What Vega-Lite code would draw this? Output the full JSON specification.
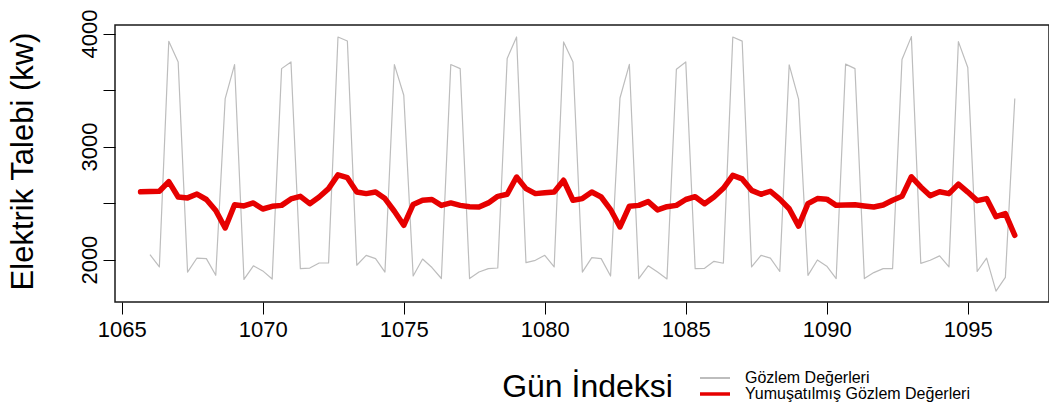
{
  "$schema": "https://vega.github.io/schema/vega-lite/v6.json",
  "width": 934,
  "height": 277,
  "autosize": {"type": "none"},
  "padding": {"left": 115, "top": 25, "right": 0, "bottom": 108},
  "background": "white",
  "config": {
    "font": "Liberation Sans",
    "view": {"stroke": "#1a1a1a", "strokeWidth": 1.5},
    "axis": {"grid": false, "domain": false, "tickColor": "#000", "tickWidth": 1, "labelColor": "#000", "titleColor": "#000", "labelFont": "Liberation Sans", "titleFont": "Liberation Sans", "titleFontWeight": "normal"}
  },
  "datasets": {
    "gozlem": [
      {"gun": 1066, "deger": 2044}, {"gun": 1066.333, "deger": 1935}, {"gun": 1066.667, "deger": 3932},
      {"gun": 1067, "deger": 3749}, {"gun": 1067.333, "deger": 1890}, {"gun": 1067.667, "deger": 2014},
      {"gun": 1068, "deger": 2009}, {"gun": 1068.333, "deger": 1861}, {"gun": 1068.667, "deger": 3425},
      {"gun": 1069, "deger": 3726}, {"gun": 1069.333, "deger": 1825}, {"gun": 1069.667, "deger": 1945},
      {"gun": 1070, "deger": 1900}, {"gun": 1070.333, "deger": 1828}, {"gun": 1070.667, "deger": 3690},
      {"gun": 1071, "deger": 3749}, {"gun": 1071.333, "deger": 1920}, {"gun": 1071.667, "deger": 1925},
      {"gun": 1072, "deger": 1970}, {"gun": 1072.333, "deger": 1970}, {"gun": 1072.667, "deger": 3970},
      {"gun": 1073, "deger": 3935}, {"gun": 1073.333, "deger": 1950}, {"gun": 1073.667, "deger": 2038},
      {"gun": 1074, "deger": 2009}, {"gun": 1074.333, "deger": 1890}, {"gun": 1074.667, "deger": 3726},
      {"gun": 1075, "deger": 3454}, {"gun": 1075.333, "deger": 1855}, {"gun": 1075.667, "deger": 2005},
      {"gun": 1076, "deger": 1930}, {"gun": 1076.333, "deger": 1833}, {"gun": 1076.667, "deger": 3726},
      {"gun": 1077, "deger": 3690}, {"gun": 1077.333, "deger": 1832}, {"gun": 1077.667, "deger": 1890},
      {"gun": 1078, "deger": 1920}, {"gun": 1078.333, "deger": 1926}, {"gun": 1078.667, "deger": 3780},
      {"gun": 1079, "deger": 3970}, {"gun": 1079.333, "deger": 1973}, {"gun": 1079.667, "deger": 1994},
      {"gun": 1080, "deger": 2038}, {"gun": 1080.333, "deger": 1935}, {"gun": 1080.667, "deger": 3926},
      {"gun": 1081, "deger": 3749}, {"gun": 1081.333, "deger": 1890}, {"gun": 1081.667, "deger": 2018},
      {"gun": 1082, "deger": 2009}, {"gun": 1082.333, "deger": 1855}, {"gun": 1082.667, "deger": 3430},
      {"gun": 1083, "deger": 3727}, {"gun": 1083.333, "deger": 1832}, {"gun": 1083.667, "deger": 1945},
      {"gun": 1084, "deger": 1890}, {"gun": 1084.333, "deger": 1829}, {"gun": 1084.667, "deger": 3685},
      {"gun": 1085, "deger": 3749}, {"gun": 1085.333, "deger": 1920}, {"gun": 1085.667, "deger": 1923},
      {"gun": 1086, "deger": 1985}, {"gun": 1086.333, "deger": 1968}, {"gun": 1086.667, "deger": 3970},
      {"gun": 1087, "deger": 3933}, {"gun": 1087.333, "deger": 1935}, {"gun": 1087.667, "deger": 2038},
      {"gun": 1088, "deger": 2013}, {"gun": 1088.333, "deger": 1895}, {"gun": 1088.667, "deger": 3723},
      {"gun": 1089, "deger": 3420}, {"gun": 1089.333, "deger": 1861}, {"gun": 1089.667, "deger": 1997},
      {"gun": 1090, "deger": 1942}, {"gun": 1090.333, "deger": 1832}, {"gun": 1090.667, "deger": 3730},
      {"gun": 1091, "deger": 3690}, {"gun": 1091.333, "deger": 1832}, {"gun": 1091.667, "deger": 1885},
      {"gun": 1092, "deger": 1920}, {"gun": 1092.333, "deger": 1920}, {"gun": 1092.667, "deger": 3770},
      {"gun": 1093, "deger": 3973}, {"gun": 1093.333, "deger": 1967}, {"gun": 1093.667, "deger": 1994},
      {"gun": 1094, "deger": 2033}, {"gun": 1094.333, "deger": 1935}, {"gun": 1094.667, "deger": 3929},
      {"gun": 1095, "deger": 3700}, {"gun": 1095.333, "deger": 1895}, {"gun": 1095.667, "deger": 2013},
      {"gun": 1096, "deger": 1721}, {"gun": 1096.333, "deger": 1843}, {"gun": 1096.667, "deger": 3425}
    ],
    "yumusak": [
      {"gun": 1065.667, "deger": 2600},
      {"gun": 1066, "deger": 2602}, {"gun": 1066.333, "deger": 2605}, {"gun": 1066.667, "deger": 2690},
      {"gun": 1067, "deger": 2554}, {"gun": 1067.333, "deger": 2546}, {"gun": 1067.667, "deger": 2580},
      {"gun": 1068, "deger": 2532}, {"gun": 1068.333, "deger": 2435}, {"gun": 1068.667, "deger": 2280},
      {"gun": 1069, "deger": 2485}, {"gun": 1069.333, "deger": 2475}, {"gun": 1069.667, "deger": 2501},
      {"gun": 1070, "deger": 2448}, {"gun": 1070.333, "deger": 2472}, {"gun": 1070.667, "deger": 2480},
      {"gun": 1071, "deger": 2537}, {"gun": 1071.333, "deger": 2560}, {"gun": 1071.667, "deger": 2495},
      {"gun": 1072, "deger": 2554}, {"gun": 1072.333, "deger": 2628}, {"gun": 1072.667, "deger": 2750},
      {"gun": 1073, "deger": 2725}, {"gun": 1073.333, "deger": 2598}, {"gun": 1073.667, "deger": 2584},
      {"gun": 1074, "deger": 2598}, {"gun": 1074.333, "deger": 2540}, {"gun": 1074.667, "deger": 2428},
      {"gun": 1075, "deger": 2304}, {"gun": 1075.333, "deger": 2488}, {"gun": 1075.667, "deger": 2525},
      {"gun": 1076, "deger": 2532}, {"gun": 1076.333, "deger": 2480}, {"gun": 1076.667, "deger": 2502},
      {"gun": 1077, "deger": 2480}, {"gun": 1077.333, "deger": 2468}, {"gun": 1077.667, "deger": 2466},
      {"gun": 1078, "deger": 2502}, {"gun": 1078.333, "deger": 2560}, {"gun": 1078.667, "deger": 2578},
      {"gun": 1079, "deger": 2731}, {"gun": 1079.333, "deger": 2628}, {"gun": 1079.667, "deger": 2584},
      {"gun": 1080, "deger": 2592}, {"gun": 1080.333, "deger": 2598}, {"gun": 1080.667, "deger": 2702},
      {"gun": 1081, "deger": 2525}, {"gun": 1081.333, "deger": 2540}, {"gun": 1081.667, "deger": 2598},
      {"gun": 1082, "deger": 2554}, {"gun": 1082.333, "deger": 2443}, {"gun": 1082.667, "deger": 2289},
      {"gun": 1083, "deger": 2473}, {"gun": 1083.333, "deger": 2480}, {"gun": 1083.667, "deger": 2513},
      {"gun": 1084, "deger": 2440}, {"gun": 1084.333, "deger": 2468}, {"gun": 1084.667, "deger": 2480},
      {"gun": 1085, "deger": 2532}, {"gun": 1085.333, "deger": 2557}, {"gun": 1085.667, "deger": 2495},
      {"gun": 1086, "deger": 2554}, {"gun": 1086.333, "deger": 2631}, {"gun": 1086.667, "deger": 2746},
      {"gun": 1087, "deger": 2714}, {"gun": 1087.333, "deger": 2613}, {"gun": 1087.667, "deger": 2578},
      {"gun": 1088, "deger": 2605}, {"gun": 1088.333, "deger": 2535}, {"gun": 1088.667, "deger": 2450},
      {"gun": 1089, "deger": 2296}, {"gun": 1089.333, "deger": 2495}, {"gun": 1089.667, "deger": 2540},
      {"gun": 1090, "deger": 2535}, {"gun": 1090.333, "deger": 2480}, {"gun": 1090.667, "deger": 2483},
      {"gun": 1091, "deger": 2485}, {"gun": 1091.333, "deger": 2475}, {"gun": 1091.667, "deger": 2466},
      {"gun": 1092, "deger": 2483}, {"gun": 1092.333, "deger": 2525}, {"gun": 1092.667, "deger": 2560},
      {"gun": 1093, "deger": 2733}, {"gun": 1093.333, "deger": 2643}, {"gun": 1093.667, "deger": 2566},
      {"gun": 1094, "deger": 2601}, {"gun": 1094.333, "deger": 2584}, {"gun": 1094.667, "deger": 2668},
      {"gun": 1095, "deger": 2598}, {"gun": 1095.333, "deger": 2522}, {"gun": 1095.667, "deger": 2540},
      {"gun": 1096, "deger": 2380}, {"gun": 1096.333, "deger": 2407}, {"gun": 1096.667, "deger": 2215}
    ]
  },
  "encoding": {
    "x": {
      "field": "gun", "type": "quantitative",
      "scale": {"domain": [1064.76, 1097.88], "nice": false, "zero": false},
      "axis": {
        "values": [1065, 1070, 1075, 1080, 1085, 1090, 1095], "format": "d",
        "title": "Gün İndeksi", "tickSize": 12, "labelFontSize": 22, "labelPadding": 5,
        "titleFontSize": 32, "titleY": 94, "titleX": 472, "titleBaseline": "alphabetic"
      }
    },
    "y": {
      "field": "deger", "type": "quantitative",
      "scale": {"domain": [1625, 4076], "nice": false, "zero": false},
      "axis": {
        "values": [2000, 2500, 3000, 3500, 4000], "format": "d",
        "labelExpr": "datum.value % 1000 === 0 ? datum.label : ''",
        "labelAngle": -90, "labelAlign": "center", "labelBaseline": "bottom",
        "tickSize": 12, "labelPadding": 2, "labelFontSize": 22,
        "title": "Elektrik Talebi (kw)", "titleFontSize": 31, "titleAngle": -90,
        "titleAlign": "center", "titleBaseline": "middle", "titleX": -92, "titleY": 136
      }
    }
  },
  "layer": [
    {
      "data": {"name": "gozlem"},
      "mark": {"type": "line", "strokeWidth": 1.2, "strokeJoin": "round"},
      "encoding": {
        "color": {
          "datum": "Gözlem Değerleri", "type": "nominal",
          "scale": {"domain": ["Gözlem Değerleri", "Yumuşatılmış Gözlem Değerleri"], "range": ["#bdbdbd", "#e60000"]},
          "legend": {
            "title": null, "orient": "none", "legendX": 592, "legendY": 345, "padding": 0,
            "symbolType": "M-4,0H4", "symbolSize": 56.25, "symbolStrokeWidth": 2.5,
            "labelFont": "Liberation Sans", "labelFontSize": 16, "labelColor": "#000", "labelOffset": 22, "labelLimit": 0, "rowPadding": 0,
            "encode": {"symbols": {"update": {"strokeWidth": {"signal": "datum.value === 'Gözlem Değerleri' ? 2 : 3.5"}}}}
          }
        }
      }
    },
    {
      "data": {"name": "yumusak"},
      "mark": {"type": "line", "strokeWidth": 5.5, "strokeJoin": "round", "strokeCap": "round"},
      "encoding": {
        "color": {"datum": "Yumuşatılmış Gözlem Değerleri", "type": "nominal"}
      }
    }
  ]
}
